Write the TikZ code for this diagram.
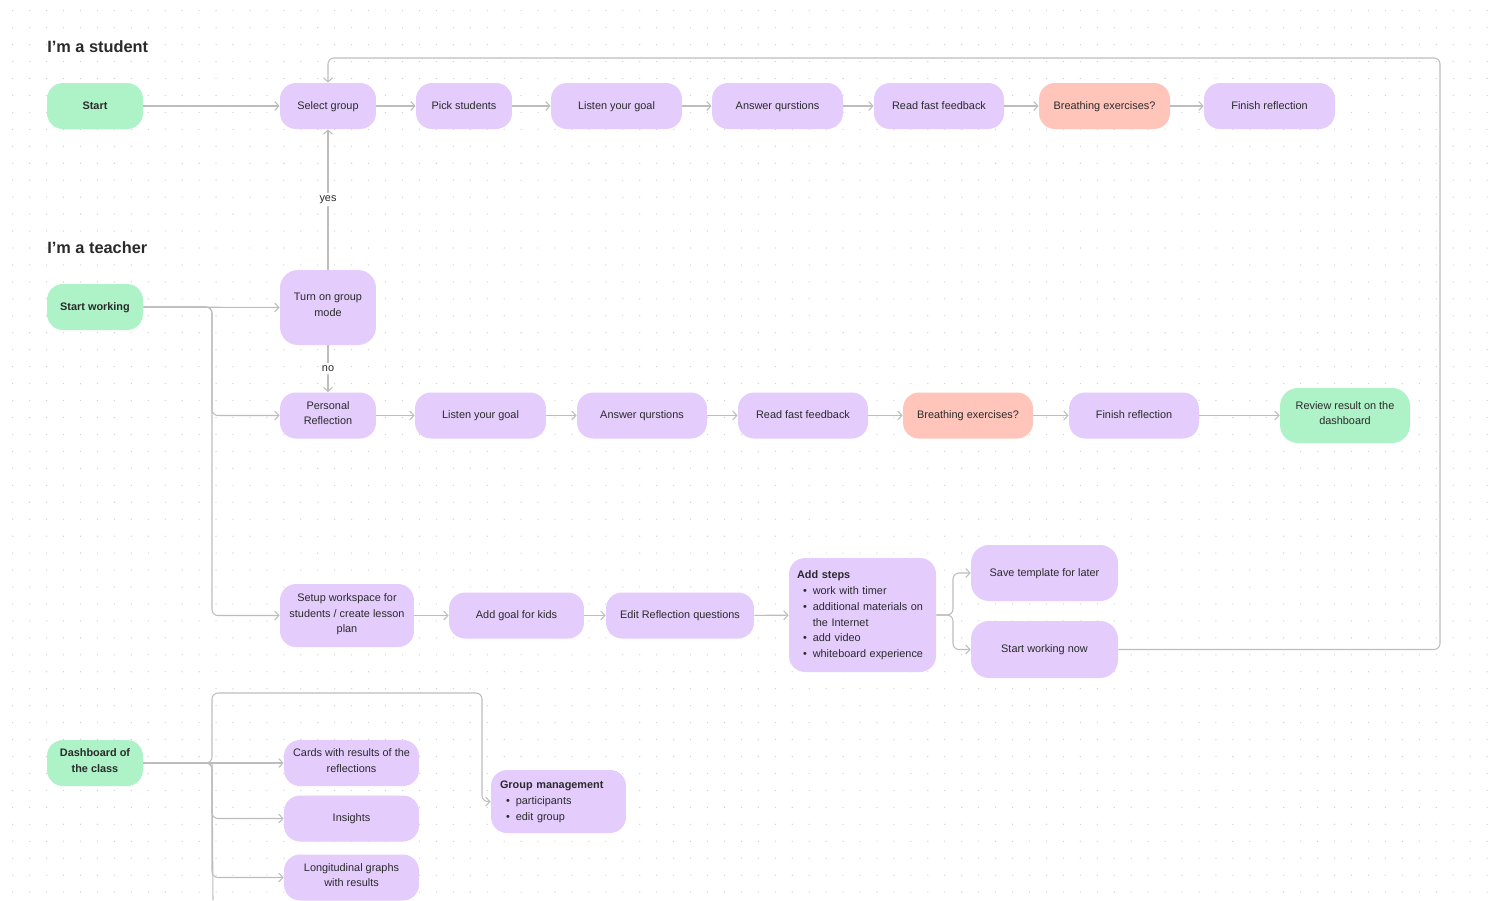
\documentclass[tikz,border=0pt]{standalone}
\usepackage{fontspec}
\setmainfont{Liberation Sans}
\usetikzlibrary{arrows.meta}
\definecolor{lilac}{HTML}{E4CCFD}
\definecolor{mintgreen}{HTML}{AEF2C8}
\definecolor{peach}{HTML}{FFC4BA}
\definecolor{ink}{HTML}{2A2A2A}
\definecolor{wirec}{HTML}{BDBDBD}
\definecolor{dotc}{HTML}{CFCFCF}
\newcommand{\itm}{\makebox[9pt][c]{\textbullet}}
\begin{document}
\begin{tikzpicture}[x=0.02cm,y=-0.02cm,
	box/.style={rounded corners=0.32cm,minimum height=0.92cm,text=ink,align=center,inner sep=0.1cm,font=\fontsize{6.2}{9}\selectfont,
		execute at begin node=\strut,execute at end node=\strut},
	task/.style={box,fill=lilac},
	entry/.style={box,fill=mintgreen},
	breathe/.style={box,fill=peach},
	heavy/.style={font=\fontsize{6.2}{9}\selectfont\bfseries},
	hdr/.style={anchor=west,inner sep=0pt,text=ink,font=\fontsize{9.3}{11}\selectfont\bfseries},
	lbl/.style={fill=white,inner sep=1.5pt,text=ink,font=\fontsize{6.2}{9}\selectfont},
	wire/.style={draw=wirec,line width=0.6pt,rounded corners=0.12cm,-{Straight Barb[length=2.4pt,width=5pt]}}]
	\useasboundingbox (0,0) rectangle (1500,900);
	\fill[white] (0,0) rectangle (1500,900);
	\foreach \j in {0,...,52}
		\draw[dotc,line width=0.75pt,line cap=round,dash pattern=on 0pt off 0.339cm] (12.7,{10.7+16.95*\j}) -- (1500,{10.7+16.95*\j});

	\node[hdr] (hs) at (47,47) {I’m a student};
	\node[hdr] (ht) at (47,248) {I’m a teacher};

	\node[entry,heavy,minimum width=1.92cm] (st) at (95,106) {Start};
	\node[task,minimum width=1.92cm] (sg) at (328,106) {Select group};
	\node[task,minimum width=1.92cm] (ps) at (464,106) {Pick students};
	\node[task,minimum width=2.62cm] (sl) at (616.5,106) {Listen your goal};
	\node[task,minimum width=2.62cm] (sa) at (777.5,106) {Answer qurstions};
	\node[task,minimum width=2.6cm] (sf) at (939,106) {Read fast feedback};
	\node[breathe,minimum width=2.62cm] (sb) at (1104.5,106) {Breathing exercises?};
	\node[task,minimum width=2.62cm] (se) at (1269.5,106) {Finish reflection};
	\draw[wire] (st) -- (sg);
	\draw[wire] (sg) -- (ps);
	\draw[wire] (ps) -- (sl);
	\draw[wire] (sl) -- (sa);
	\draw[wire] (sa) -- (sf);
	\draw[wire] (sf) -- (sb);
	\draw[wire] (sb) -- (se);

	\node[entry,heavy,minimum width=1.92cm] (sw) at (95,307) {Start working};
	\node[task,minimum width=1.92cm,minimum height=1.5cm,rounded corners=0.36cm] (tg) at (328,307.5) {Turn on group\\mode};
	\node[task,minimum width=1.92cm] (pr) at (328,415.5) {Personal\\Reflection};
	\node[task,minimum width=2.62cm] (tl) at (480.5,415.5) {Listen your goal};
	\node[task,minimum width=2.6cm] (ta) at (642,415.5) {Answer qurstions};
	\node[task,minimum width=2.6cm] (tf) at (803,415.5) {Read fast feedback};
	\node[breathe,minimum width=2.6cm] (tb) at (968,415.5) {Breathing exercises?};
	\node[task,minimum width=2.6cm] (te) at (1134,415.5) {Finish reflection};
	\node[entry,minimum width=2.6cm,minimum height=1.1cm,rounded corners=0.36cm] (rv) at (1345,415.5) {Review result on the\\dashboard};
	\coordinate (tbus) at (212,307);
	\draw[wire] (sw) -- (tg);
	\draw[wire] (tg) -- node[lbl] {yes} (sg);
	\draw[wire] (tg) -- node[lbl] {no} (pr);
	\draw[wire] (sw.east) -- (tbus) |- (pr.west);
	\draw[wire] (pr) -- (tl);
	\draw[wire] (tl) -- (ta);
	\draw[wire] (ta) -- (tf);
	\draw[wire] (tf) -- (tb);
	\draw[wire] (tb) -- (te);
	\draw[wire] (te) -- (rv);

	\node[task,minimum width=2.68cm,minimum height=1.26cm] (sp) at (347,615.5) {Setup workspace for\\students / create lesson\\plan};
	\node[task,minimum width=2.7cm] (gk) at (516.5,615.5) {Add goal for kids};
	\node[task,minimum width=2.96cm] (rq) at (680,615.5) {Edit Reflection questions};
	\node[task,align=left,text width=2.62cm,inner xsep=0.16cm,minimum height=2.28cm] (as) at (862.5,615) {\textbf{Add steps}\\\itm work with timer\\\itm additional materials on\\\hspace*{9pt}the Internet\\\itm add video\\\itm whiteboard experience};
	\node[task,minimum width=2.94cm,minimum height=1.12cm,rounded corners=0.36cm] (tp) at (1044.5,573) {Save template for later};
	\node[task,minimum width=2.94cm,minimum height=1.14cm,rounded corners=0.36cm] (wn) at (1044.5,649.5) {Start working now};
	\coordinate (abus) at (953,615);
	\draw[wire] (sw.east) -- (tbus) |- (sp.west);
	\draw[wire] (sp) -- (gk);
	\draw[wire] (gk) -- (rq);
	\draw[wire] (rq) -- (as);
	\draw[wire] (as.east) -- (abus) |- (tp.west);
	\draw[wire] (as.east) -- (abus) |- (wn.west);
	\draw[wire] (wn.east) -| (1440,58) -| (sg.north);

	\node[entry,heavy,minimum width=1.92cm] (db) at (95,763) {Dashboard of\\the class};
	\node[task,minimum width=2.7cm] (cr) at (351.5,763) {Cards with results of the\\reflections};
	\node[task,minimum width=2.7cm] (ins) at (351.5,818.5) {Insights};
	\node[task,minimum width=2.7cm] (lg) at (351.5,877.5) {Longitudinal graphs\\with results};
	\node[task,align=left,text width=2.34cm,inner xsep=0.18cm,minimum height=1.26cm] (gm) at (558.5,801.5) {\textbf{Group management}\\\itm participants\\\itm edit group};
	\coordinate (dbus) at (212,763);
	\coordinate (gmtop) at (482,693);
	\coordinate (dend) at (213,900);
	\draw[wire] (db) -- (cr);
	\draw[wire] (db.east) -- (dbus) |- (ins.west);
	\draw[wire] (db.east) -- (dbus) |- (lg.west);
	\draw[wire,-] (dbus) -- (dend);
	\draw[wire] (db.east) -- (dbus) |- (gmtop) |- (gm.west);
\end{tikzpicture}
\end{document}
